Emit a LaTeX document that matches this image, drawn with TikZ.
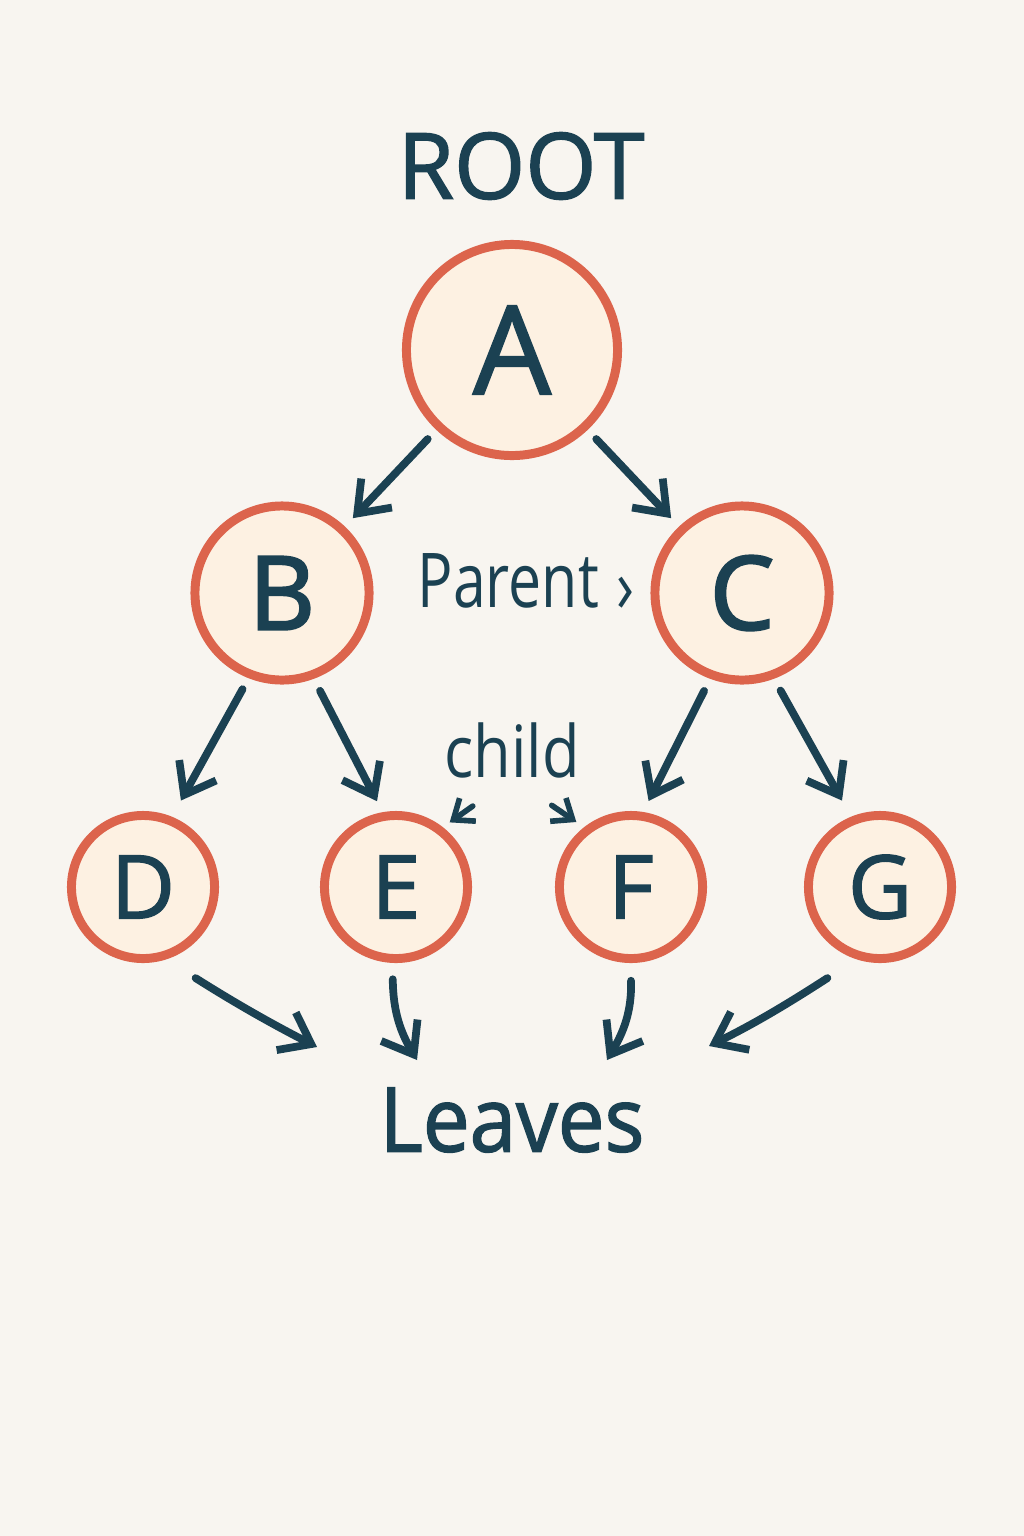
\documentclass[tikz,border=0pt]{standalone}
\usepackage{fontspec}
\setmainfont{Open Sans}
\newfontfamily\heavyfont[FakeBold=1.6]{Open Sans}
\newfontfamily\heavierfont[FakeBold=2.4]{Open Sans}
\newfontfamily\wordfont[FakeBold=1.6,FakeStretch=0.93]{Open Sans}
\newfontfamily\condfont[FakeStretch=0.78]{Open Sans}
\newfontfamily\chfont[FakeStretch=0.85]{Open Sans}
\usetikzlibrary{positioning}
\usetikzlibrary{calc}
\usetikzlibrary{arrows.meta}
\definecolor{ink}{HTML}{1B4152}
\definecolor{ring}{HTML}{DC644C}
\definecolor{cream}{HTML}{FDF1E2}
\definecolor{paper}{HTML}{F8F5F0}
\tikzset{
	vtx/.style={circle,draw=ring,fill=cream,line width=2.55pt,inner sep=0pt,outer sep=0pt,text=ink},
	vbig/.style={vtx,minimum size=2.11cm,font=\heavyfont\fontsize{35}{35}\selectfont},
	vmid/.style={vtx,minimum size=1.74cm,font=\heavierfont\fontsize{29}{29}\selectfont},
	vleaf/.style={vtx,minimum size=1.43cm,font=\heavyfont\fontsize{25}{25}\selectfont},
	lbl/.style={text=ink,inner sep=0pt},
	arr/.style={-{Straight Barb[length=8pt,width=12pt]},line width=2.2pt,draw=ink,line cap=round,line join=round},
	childarr/.style={-{Straight Barb[length=5pt,width=8pt]},line width=1.6pt,draw=ink,line cap=round,line join=round}
}

\begin{document}
\begin{tikzpicture}[x=0.01cm,y=-0.01cm]
	\fill[paper] (0,0) rectangle (1024,1536);
	\useasboundingbox (0,0) rectangle (1024,1536);

	\node[lbl,font=\heavyfont\fontsize{26}{26}\selectfont] (R) at (521,166) {ROOT};
	\node[vbig] (A) at (512,350) {A};
	\node[vmid] (B) at (282,593) {B};
	\node[vmid] (C) at (742,593) {C};
	\node[vleaf] (D) at (143,887) {D};
	\node[vleaf] (E) at (396,887) {E};
	\node[vleaf] (F) at (631,887) {F};
	\node[vleaf] (G) at (880,887) {G};

	\node[lbl,anchor=base west,font=\condfont\fontsize{21.5}{21.5}\selectfont] (P) at (417,607) {Parent\hspace{5pt}\raisebox{-1.5pt}{›}};
	\node[lbl,anchor=base,font=\chfont\fontsize{20.5}{20.5}\selectfont] (Ch) at (512,777) {child};
	\node[lbl,font=\wordfont\fontsize{25.5}{25.5}\selectfont] (L) at (512,1120) {Leaves};

	\draw[arr,shorten <=0.17cm,shorten >=0.16cm] (A) -- (B);
	\draw[arr,shorten <=0.17cm,shorten >=0.16cm] (A) -- (C);
	\draw[arr,shorten <=0.17cm,shorten >=0.23cm] (B.-111) -- (D.68);
	\draw[arr,shorten <=0.18cm,shorten >=0.17cm] (B.-70) -- (E.99);
	\draw[arr,shorten <=0.18cm,shorten >=0.17cm] (C.-110) -- (F.82);
	\draw[arr,shorten <=0.18cm,shorten >=0.23cm] (C.-70) -- (G.112);

	\draw[childarr,shorten <=0.48cm,shorten >=0.13cm] (Ch.south) -- (E.53);
	\draw[childarr,shorten <=0.48cm,shorten >=0.14cm] (Ch.south) -- (F.127);

	% ends above the Leaves label
	\coordinate (L1) at (317,1047);
	\coordinate (L2) at (417,1060);
	\coordinate (L3) at (607,1060);
	\coordinate (L4) at (709,1046);
	\draw[arr] ($(D)!1.47!(D.-60)$) .. controls (235,1003) and (272,1024) .. (L1);
	\draw[arr] ($(E)!1.29!(E.-92)$) .. controls (393,1012) and (401,1033) .. (L2);
	\draw[arr] ($(F)!1.31!(F.-90)$) .. controls (632,1012) and (623,1033) .. (L3);
	\draw[arr] ($(G)!1.47!(G.-120)$) .. controls (789,1003) and (754,1024) .. (L4);
\end{tikzpicture}
\end{document}
